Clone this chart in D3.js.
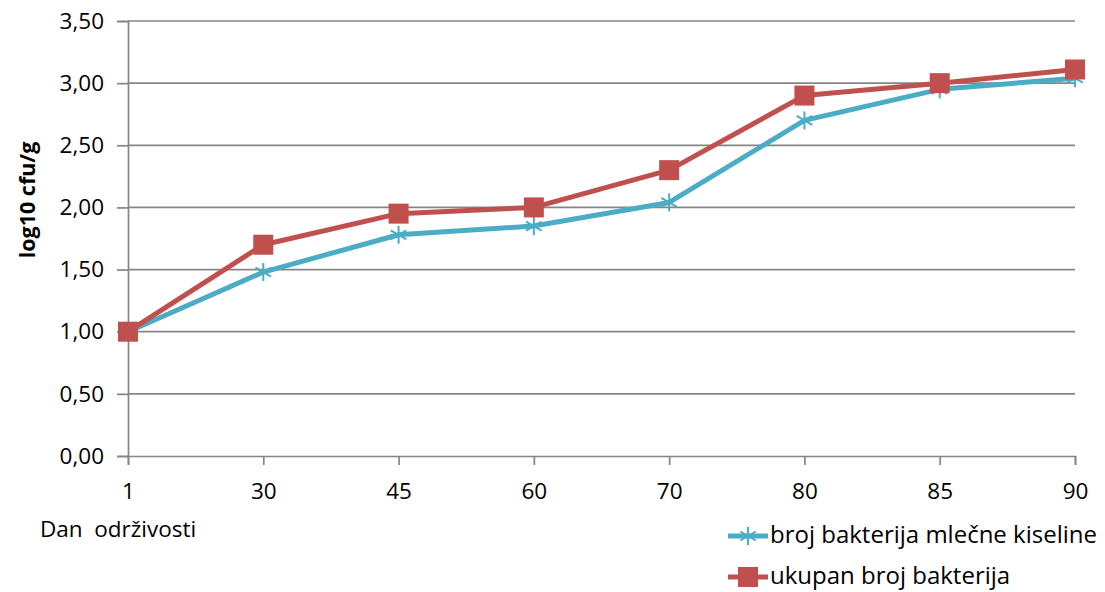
<!DOCTYPE html>
<html><head><meta charset="utf-8">
<script src="https://cdn.jsdelivr.net/npm/d3@7"></script>
<style>body{margin:0;background:#fff}svg text{font-family:"Open Sans",sans-serif;fill:#000}</style>
</head><body><svg id="c" width="1105" height="592"></svg>
<script>
const categories = ["1","30","45","60","70","80","85","90"];
const lacticBacteria = [1.00,1.48,1.78,1.85,2.04,2.70,2.95,3.04];
const totalBacteria = [1.00,1.70,1.95,2.00,2.30,2.90,3.00,3.11];
const yTicks = [0,0.5,1,1.5,2,2.5,3,3.5];
const seriesNames = ["broj bakterija mlečne kiseline","ukupan broj bakterija"];
const colors = ["#4BACC6","#C0504D"];
const FONT = "'Open Sans', sans-serif";

const svg = d3.select("#c");
const x = d3.scalePoint().domain(categories).range([128,1075]);
const y = d3.scaleLinear().domain([0,3.5]).range([456,21]);
const fmt = d => d.toFixed(2).replace(".", ",");

// gridlines
svg.append("g").selectAll("line").data(yTicks.filter(d=>d>0)).join("line")
  .attr("x1",128).attr("x2",1075).attr("y1",d=>y(d)).attr("y2",d=>y(d))
  .attr("stroke","#868686").attr("stroke-width",1.7);

// y axis
const ya = svg.append("g").attr("transform","translate(128,0)")
  .call(d3.axisLeft(y).tickValues(yTicks).tickFormat(fmt).tickSize(11).tickPadding(13));
ya.select(".domain").attr("stroke","#868686").attr("stroke-width",1.7);
ya.selectAll(".tick line").attr("stroke","#868686").attr("stroke-width",1.7);
ya.selectAll("text").attr("font-size",22.5).style("font-family",FONT);

// x axis
const xa = svg.append("g").attr("transform","translate(0,456)")
  .call(d3.axisBottom(x).tickSize(9).tickPadding(18));
xa.select(".domain").attr("stroke","#868686").attr("stroke-width",1.7);
xa.selectAll(".tick line").attr("stroke","#868686").attr("stroke-width",1.7);
xa.selectAll("text").attr("font-size",22.5).style("font-family",FONT);

// axis titles
svg.append("text").attr("transform","translate(35,200) rotate(-90)")
  .attr("text-anchor","middle").attr("font-size",21.5).attr("font-weight","bold").text("log10 cfu/g");
svg.append("text").attr("x",40).attr("y",537).attr("font-size",22.5).attr("xml:space","preserve").text("Dan  održivosti");

const line = d3.line().x((d,i)=>x(categories[i])).y(d=>y(d));

function star(g, cx, cy, col, r){
  [0,60,120].forEach(ang=>{
    const rad = ang*Math.PI/180;
    g.append("line").attr("x1",cx-r*Math.sin(rad)).attr("y1",cy-r*Math.cos(rad))
      .attr("x2",cx+r*Math.sin(rad)).attr("y2",cy+r*Math.cos(rad))
      .attr("stroke",col).attr("stroke-width",2);
  });
}

// blue series
svg.append("path").datum(lacticBacteria).attr("d",line).attr("fill","none")
  .attr("stroke",colors[0]).attr("stroke-width",5).attr("stroke-linejoin","round");
const gs = svg.append("g");
lacticBacteria.forEach((v,i)=>star(gs,x(categories[i]),y(v),colors[0],9));

// red series
svg.append("path").datum(totalBacteria).attr("d",line).attr("fill","none")
  .attr("stroke",colors[1]).attr("stroke-width",5).attr("stroke-linejoin","round");
svg.append("g").selectAll("rect").data(totalBacteria).join("rect")
  .attr("x",(d,i)=>x(categories[i])-10).attr("y",d=>y(d)-10)
  .attr("width",20).attr("height",20).attr("fill",colors[1]);

// legend
const lg = svg.append("g");
[536,577].forEach((ly,k)=>{
  lg.append("line").attr("x1",728).attr("x2",768).attr("y1",ly).attr("y2",ly)
    .attr("stroke",colors[k]).attr("stroke-width",5);
  if(k===0) star(lg,748,ly,colors[0],9);
  else lg.append("rect").attr("x",738).attr("y",ly-10).attr("width",20).attr("height",20).attr("fill",colors[1]);
  lg.append("text").attr("x",770).attr("y",ly+7).attr("font-size",24).text(seriesNames[k]);
});
</script></body></html>
